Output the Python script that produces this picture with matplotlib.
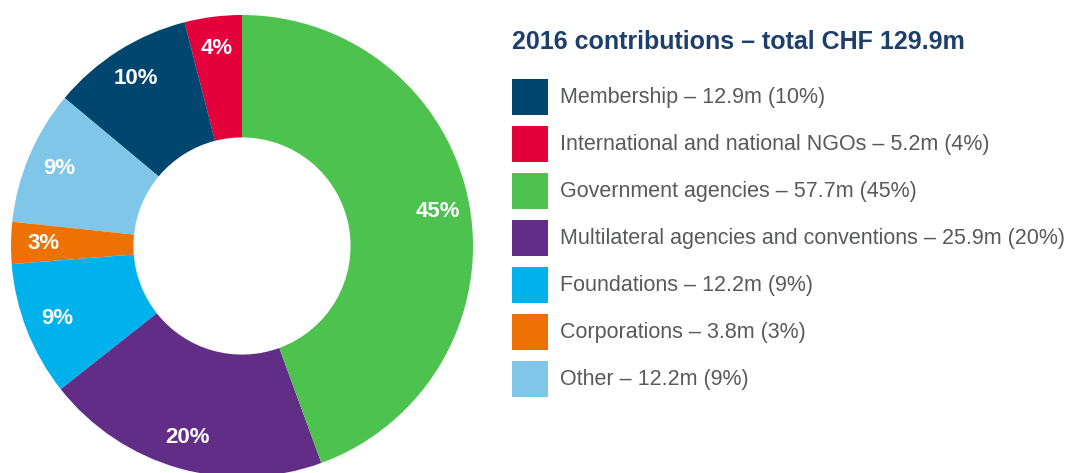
import numpy as np
import matplotlib.pyplot as plt
from matplotlib.patches import Rectangle

plt.rcParams['font.family'] = ['Liberation Sans', 'DejaVu Sans']

# contributions in CHF millions, legend order
sources = ['Membership', 'International and national NGOs', 'Government agencies',
           'Multilateral agencies and conventions', 'Foundations', 'Corporations', 'Other']
amounts = [12.9, 5.2, 57.7, 25.9, 12.2, 3.8, 12.2]
pct_text = ['10%', '4%', '45%', '20%', '9%', '3%', '9%']
colors = ['#00466f', '#e4003a', '#4ec24e', '#622d86', '#00b2ec', '#ee7203', '#80c6e8']
# order of the wedges counter-clockwise from 12 o'clock
ring_order = [1, 0, 6, 5, 4, 3, 2]

W, H = 1077, 473
fig = plt.figure(figsize=(W / 100, H / 100), dpi=100)

ax = fig.add_axes([11 / W, -4 / H, 462 / W, 462 / H])
wedges, _ = ax.pie([amounts[i] for i in ring_order],
                   colors=[colors[i] for i in ring_order],
                   startangle=90, counterclock=True, radius=1,
                   wedgeprops=dict(width=0.53, linewidth=0))
for w, i in zip(wedges, ring_order):
    mid = np.deg2rad((w.theta1 + w.theta2) / 2)
    ax.text(0.86 * np.cos(mid), 0.86 * np.sin(mid), pct_text[i],
            ha='center', va='center', color='white', fontweight='bold', fontsize=16)
ax.set_xlim(-1, 1)
ax.set_ylim(-1, 1)
ax.set_aspect('equal')

# legend panel drawn in pixel units
lax = fig.add_axes([0, 0, 1, 1])
lax.set_xlim(0, W)
lax.set_ylim(H, 0)
lax.axis('off')
lax.text(512, 42, '2016 contributions – total CHF 129.9m', ha='left', va='center',
         fontsize=18, fontweight='bold', color='#1d3f6b')
for k, (name, amt, pct, c) in enumerate(zip(sources, amounts, pct_text, colors)):
    yc = 97 + 47 * k
    lax.add_patch(Rectangle((512, yc - 18), 36, 36, facecolor=c, edgecolor='none'))
    lax.text(560, yc, f'{name} – {amt}m ({pct})', ha='left', va='center',
             fontsize=15.5, color='#58595b')

fig.savefig('out.png', dpi=100)
